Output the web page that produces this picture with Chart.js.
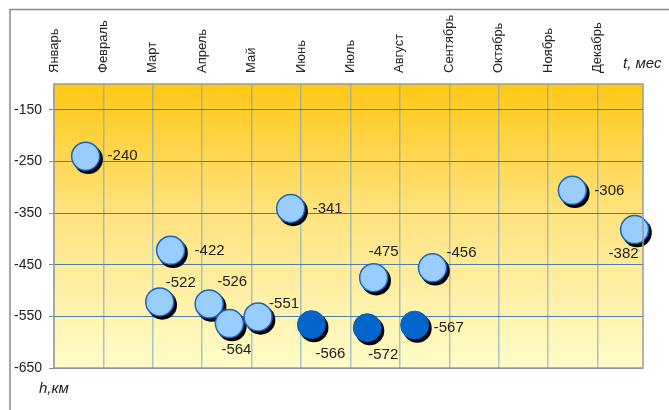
<!DOCTYPE html>
<html>
<head>
<meta charset="utf-8">
<script src="https://cdn.jsdelivr.net/npm/chart.js@4/dist/chart.umd.min.js"></script>
<style>
  html, body { margin: 0; padding: 0; background: #fff; }
  #wrap { width: 669px; height: 410px; }
</style>
</head>
<body>
<div id="wrap"><canvas id="myChart" width="669" height="410"></canvas></div>
<script>
// months on the top axis
const months = ['Январь', 'Февраль', 'Март', 'Апрель', 'Май', 'Июнь',
  'Июль', 'Август', 'Сентябрь', 'Октябрь', 'Ноябрь', 'Декабрь'];
const depthTicks = [-650, -550, -450, -350, -250, -150];

// light points: time (in months from January) and depth h
const lightT = [0.64, 2.14, 2.36, 3.14, 3.55, 4.13, 4.79, 6.47, 7.66, 10.49, 11.75];
const lightH = [-240, -522, -422, -526, -564, -551, -341, -475, -456, -306, -382];
// dark points
const darkT = [5.21, 6.34, 7.30];
const darkH = [-566, -572, -567];

// where each value label sits relative to its point (px)
const lightLabelShift = [[37, 0], [21, -19], [39, 1], [23, -22], [7, 26], [26, -13],
  [37, 0], [10, -26], [29, -15], [37, 0], [-11, 24]];
const darkLabelShift = [[19, 29], [16, 27], [34, 3]];

const toPoints = (xs, ys) => xs.map((x, i) => ({ x, y: ys[i] }));
const FONT = '"Liberation Sans", Arial, sans-serif';

const bgPlugin = {
  id: 'bg',
  beforeDraw(chart) {
    const { ctx, chartArea: a } = chart;
    ctx.save();
    const g = ctx.createLinearGradient(0, a.top, 0, a.bottom);
    g.addColorStop(0, '#ffc814');
    g.addColorStop(0.45, '#ffe27e');
    g.addColorStop(1, '#fffcc9');
    ctx.fillStyle = g;
    ctx.fillRect(a.left, a.top, a.right - a.left, a.bottom - a.top);
    // outer frame (top and left only visible)
    ctx.strokeStyle = '#8a8a8a';
    ctx.lineWidth = 1.5;
    ctx.beginPath();
    ctx.moveTo(10, 410);
    ctx.lineTo(10, 9.5);
    ctx.lineTo(669, 9.5);
    ctx.stroke();
    ctx.restore();
  },
  beforeDatasetDraw(chart, args) {
    // black drop shadow under every marker
    const { ctx } = chart;
    const meta = chart.getDatasetMeta(args.index);
    ctx.save();
    ctx.fillStyle = '#000';
    meta.data.forEach((pt) => {
      const r = pt.options.radius + pt.options.borderWidth / 2;
      ctx.beginPath();
      ctx.arc(pt.x + 2.5, pt.y + 3, r, 0, Math.PI * 2);
      ctx.fill();
    });
    ctx.restore();
  },
  afterDatasetsDraw(chart) {
    const { ctx, chartArea: a } = chart;
    const xScale = chart.scales.x;
    ctx.save();
    // plot frame
    ctx.strokeStyle = '#9a9a9a';
    ctx.lineWidth = 1.5;
    ctx.strokeRect(a.left, a.top, a.right - a.left, a.bottom - a.top);

    // value labels
    ctx.fillStyle = '#222';
    ctx.font = '15px ' + FONT;
    ctx.textAlign = 'center';
    ctx.textBaseline = 'middle';
    const shifts = [lightLabelShift, darkLabelShift];
    chart.data.datasets.forEach((ds, di) => {
      chart.getDatasetMeta(di).data.forEach((pt, i) => {
        const [dx, dy] = shifts[di][i];
        ctx.fillText(String(ds.data[i].y), pt.x + dx, pt.y + dy);
      });
    });

    // month labels, vertical, ending just above the plot
    ctx.font = '13px ' + FONT;
    ctx.textAlign = 'left';
    months.forEach((m, i) => {
      ctx.save();
      ctx.translate(xScale.getPixelForValue(i), a.top - 11);
      ctx.rotate(-Math.PI / 2);
      ctx.fillText(m, 0, 0);
      ctx.restore();
    });

    ctx.font = 'italic 15px ' + FONT;
    ctx.fillText('t, мес', 623, 64);
    ctx.fillText('h,км', 39, 389);
    ctx.restore();
  },
};

Chart.defaults.font.family = FONT;
Chart.defaults.color = '#222';

const depthChart = new Chart('myChart', {
  type: 'scatter',
  data: {
    datasets: [
      {
        data: toPoints(lightT, lightH),
        backgroundColor: '#99ccff',
        borderColor: '#1b64c0',
        borderWidth: 1.5,
        pointRadius: 14,
        pointHoverRadius: 14,
        clip: false,
      },
      {
        data: toPoints(darkT, darkH),
        backgroundColor: '#0066cc',
        borderColor: '#0a5cb5',
        borderWidth: 1,
        pointRadius: 14,
        pointHoverRadius: 14,
        clip: false,
      },
    ],
  },
  options: {
    responsive: false,
    animation: false,
    events: [],
    layout: { padding: { left: 0, top: 0, right: 26, bottom: 42 } },
    plugins: { legend: { display: false }, tooltip: { enabled: false } },
    scales: {
      x: {
        type: 'linear',
        position: 'top',
        min: 0,
        max: 11.92,
        afterBuildTicks: (scale) => { scale.ticks = months.map((m, i) => ({ value: i })); },
        afterFit: (scale) => { scale.height = 84; },
        ticks: { display: false },
        grid: { color: 'rgba(110,160,200,0.6)', drawTicks: false, lineWidth: 1.5 },
        border: { display: false },
      },
      y: {
        min: -650,
        max: -100,
        afterBuildTicks: (scale) => { scale.ticks = depthTicks.map((v) => ({ value: v })); },
        afterFit: (scale) => { scale.width = 54; },
        ticks: { padding: 7, font: { size: 14 }, color: '#222' },
        grid: { color: '#4d7ea6', tickColor: '#8a8a8a', tickLength: 5, lineWidth: 1 },
        border: { display: false },
      },
    },
  },
  plugins: [bgPlugin],
});
</script>
</body>
</html>
